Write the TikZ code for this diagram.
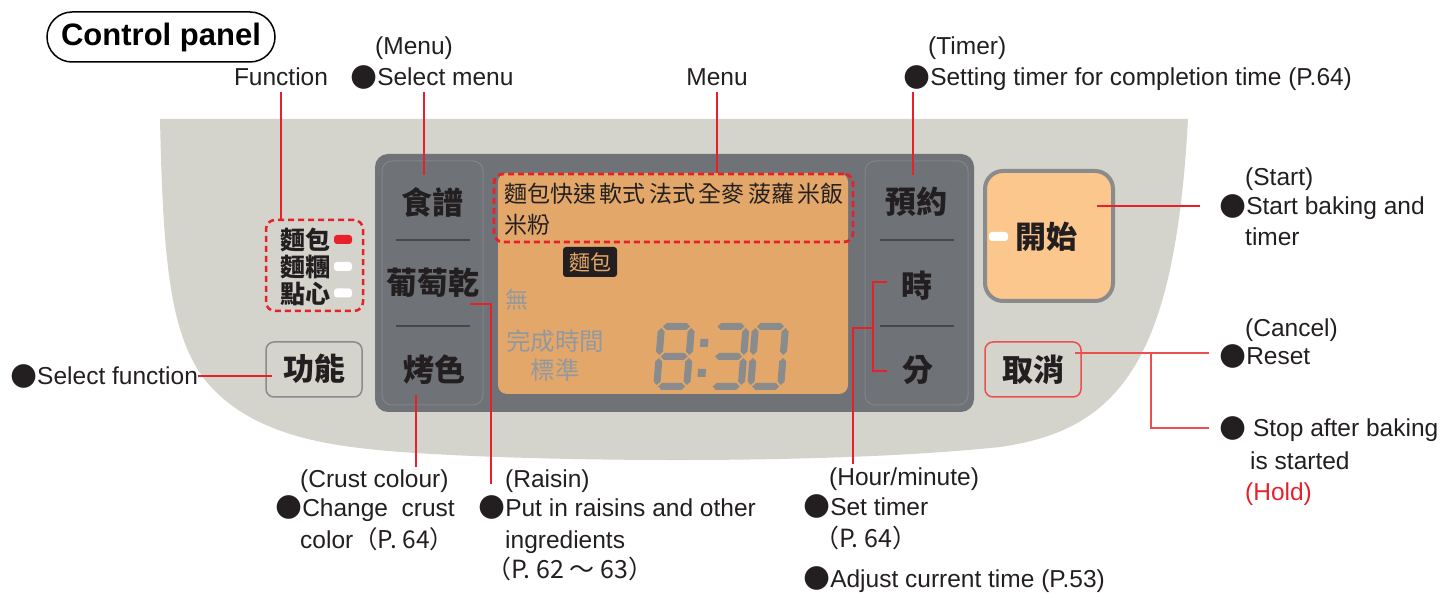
\documentclass[tikz,border=0pt]{standalone}
\usepackage{fontspec}
\setmainfont{Liberation Sans}
\newfontfamily\cjk{Noto Sans CJK TC}
\newfontfamily\sym{DejaVu Sans}
\newcommand\myfs[1]{\fontsize{#1}{#1}\selectfont}
\newcommand\bul{{\sym\fontsize{31}{31}\selectfont\raisebox{0.5pt}{●}}}
\definecolor{basec}{HTML}{D4D3CC}
\definecolor{panelc}{HTML}{6F7276}
\definecolor{panelline}{HTML}{818488}
\definecolor{sepc}{HTML}{45474A}
\definecolor{lcdc}{HTML}{E3A869}
\definecolor{dimc}{HTML}{9398A0}
\definecolor{segc}{HTML}{8A8B8D}
\definecolor{startc}{HTML}{FCC78D}
\definecolor{btnb}{HTML}{8A8B8C}
\definecolor{cred}{HTML}{E8202A}
\definecolor{credl}{HTML}{EC4F4F}
\definecolor{txt}{HTML}{231F20}
\newcommand\hsg[3]{\fill[segc] (#1+1.5,#3) -- (#1+5,#3-3.5) -- (#2-5,#3-3.5) -- (#2-1.5,#3) -- (#2-5,#3+3.5) -- (#1+5,#3+3.5) -- cycle;}
\newcommand\vsg[3]{\fill[segc] (#1,#2+1.5) -- (#1+3.5,#2+5) -- (#1+3.5,#3-5) -- (#1,#3-1.5) -- (#1-3.5,#3-5) -- (#1-3.5,#2+5) -- cycle;}
\begin{document}
\begin{tikzpicture}[x=1pt,y=-1pt,
  lbl/.style={anchor=base west, inner sep=0, font=\myfs{24.5}, text=txt},
  redline/.style={draw=cred, line width=1.5pt},
  redlinel/.style={draw=credl, line width=1.5pt},
  cjkt/.style={inner sep=0, text=txt, font=\cjk\myfs{31}},
  btnt/.style={inner sep=0, text=txt, font=\cjk\bfseries\myfs{31}},
  lcdt/.style={inner sep=0, text=dimc, font=\cjk\myfs{24.5}},
  sepline/.style={draw=sepc, line width=1.5pt},
  column/.style={draw=panelline, line width=1pt, rounded corners=10pt, minimum width=101pt, minimum height=244pt, inner sep=0},
  reddash/.style={draw=cred, line width=2.8pt, dash pattern=on 6pt off 4pt, rounded corners=9pt, inner sep=0},
  led/.style={inner sep=0, minimum width=18pt, minimum height=9pt, rounded corners=3pt}
]
\useasboundingbox (0,0) rectangle (1446,593);
% base
\fill[basec] (160,119) -- (1188,119) .. controls (1175,360) and (1120,430) .. (1000,447)
  .. controls (800,468) and (450,460) .. (360,448)
  .. controls (290,440) and (235,420) .. (202,376)
  .. controls (170,330) and (163,260) .. (160,119) -- cycle;
% title
\node[draw=black, line width=1.5pt, rounded corners=25pt, minimum width=228pt, minimum height=50pt, inner sep=0, font=\bfseries\myfs{31}] (title) at (161,37) {Control panel};
% panel
\node[fill=panelc, rounded corners=13pt, minimum width=599pt, minimum height=258pt, inner sep=0] (panel) at (674.5,283) {};
\node[column] (lcol) at (432.5,283) {};
\node[column, minimum width=103pt] (rcol) at (916.5,283) {};
\draw[sepline] (396,240) -- (470,240);
\draw[sepline] (396,326) -- (470,326);
\draw[sepline] (880,240) -- (954,240);
\draw[sepline] (880,326) -- (954,326);
\node[btnt] (shiyu) at (432,202) {食譜};
\node[btnt] (putao) at (433,283) {葡萄乾};
\node[btnt] (kaose) at (434,370) {烤色};
\node[btnt] (yuyue) at (916,202) {預約};
\node[btnt] (shi) at (917,286) {時};
\node[btnt] (fen) at (918,370) {分};
% LCD
\node[fill=lcdc, rounded corners=9pt, minimum width=350pt, minimum height=221pt, inner sep=0] (lcd) at (673,283.5) {};
\node[reddash, minimum width=359pt, minimum height=68pt] (menubox) at (673.5,208) {};
\node[cjkt, font=\cjk\myfs{23}, anchor=west] (menu1) at (504,193.5) {麵包快速\hspace{3.5pt}軟式\hspace{3.5pt}法式\hspace{3.5pt}全麥\hspace{3.5pt}菠蘿\hspace{3.5pt}米飯};
\node[cjkt, font=\cjk\myfs{23}, anchor=west] (menu2) at (504,225) {米粉};
\node[fill=txt, rounded corners=3pt, minimum width=54pt, minimum height=30pt, inner sep=0, text=lcdc, font=\cjk\myfs{21}] (mianbao) at (590,262) {麵包};
\node[lcdt, font=\cjk\myfs{23}] (wu) at (516.5,299.5) {無};
\node[lcdt] (wancheng) at (555,341.5) {完成時間};
\node[lcdt] (biaozhun) at (555,370.5) {標準};
% seven segment 8:30
\begin{scope}[shift={(661.5,326.5)}, xslant=0.08]
\hsg{0}{30}{0}\vsg{30}{0}{30}\vsg{30}{30}{60}\hsg{0}{30}{60}\vsg{0}{30}{60}\vsg{0}{0}{30}\hsg{0}{30}{30}
\fill[segc] (40,12.5) rectangle (48,20.5);
\fill[segc] (40,42.5) rectangle (48,50.5);
\end{scope}
\begin{scope}[shift={(716,326.5)}, xslant=0.08]
\hsg{0}{30}{0}\vsg{30}{0}{30}\vsg{30}{30}{60}\hsg{0}{30}{60}\hsg{0}{30}{30}
\end{scope}
\begin{scope}[shift={(755.5,326.5)}, xslant=0.08]
\hsg{0}{30}{0}\vsg{30}{0}{30}\vsg{30}{30}{60}\hsg{0}{30}{60}\vsg{0}{30}{60}\vsg{0}{0}{30}
\end{scope}
% function indicator
\node[reddash, line width=2.5pt, minimum width=97pt, minimum height=91pt] (funcbox) at (314.5,265.5) {};
\node[btnt, font=\cjk\bfseries\myfs{25}] (f1) at (305,240) {麵包};
\node[btnt, font=\cjk\bfseries\myfs{25}] (f2) at (305,267.5) {麵糰};
\node[btnt, font=\cjk\bfseries\myfs{25}] (f3) at (305,294) {點心};
\node[led, fill=cred] (led1) at (343,239.5) {};
\node[led, fill=white] (led2) at (343,266.5) {};
\node[led, fill=white] (led3) at (343,293) {};
% buttons
\node[draw=btnb, line width=1.5pt, fill=basec, rounded corners=8pt, minimum width=96pt, minimum height=55pt, inner sep=0] (fnbtn) at (314,369.5) {};
\node[btnt] (gongneng) at (314,369) {功能};
\node[draw=btnb, line width=4pt, fill=startc, rounded corners=18pt, minimum width=128pt, minimum height=130pt, inner sep=0] (startbtn) at (1049,236) {};
\node[led, fill=white, minimum width=19pt] (led4) at (998.5,236.5) {};
\node[btnt] (kaishi) at (1046,237) {開始};
\node[draw=credl, line width=1.5pt, fill=basec, rounded corners=8pt, minimum width=96pt, minimum height=55pt, inner sep=0] (cancelbtn) at (1033,369.5) {};
\node[btnt] (quxiao) at (1033,370) {取消};
% labels top
\node[lbl] (lMenuT) at (375,55) {(Menu)};
\node[lbl] (lSelMenu) at (350,86) {\bul Select menu};
\node[lbl, anchor=base] (lFunc) at (281,86) {Function};
\node[lbl, anchor=base] (lMenu) at (717,86) {Menu};
\node[lbl] (lTimerT) at (928,55) {(Timer)};
\node[lbl] (lTimer) at (903,86) {\bul Setting timer for completion time (P.64)};
% labels right
\node[lbl] (lStartT) at (1245,186) {(Start)};
\node[lbl] (lStart) at (1219,215) {\bul Start baking and};
\node[lbl] (lStart2) at (1245,246) {timer};
\node[lbl] (lCancelT) at (1245,337) {(Cancel)};
\node[lbl] (lReset) at (1219,365) {\bul Reset};
\node[lbl] (lStop) at (1219,437) {\bul\ Stop after baking};
\node[lbl] (lStop2) at (1250,469) {is started};
\node[lbl, text=cred] (lHold) at (1245,500) {(Hold)};
% label left
\node[lbl] (lSelFn) at (10,385) {\bul Select function};
% labels bottom
\node[lbl] (lCrustT) at (300,487) {(Crust colour)};
\node[lbl] (lCrust) at (275,516) {\bul Change\ \ crust};
\node[lbl] (lCrust2) at (300,548) {color{\cjk （P. 64）}};
\node[lbl] (lRaisinT) at (505,487) {(Raisin)};
\node[lbl] (lRaisin) at (478,516) {\bul Put in raisins and other};
\node[lbl] (lRaisin2) at (505,548) {ingredients};
\node[lbl, font=\cjk\myfs{25}] (lRaisin3) at (486,578) {（P. 62 〜 63）};
\node[lbl] (lHourT) at (829,485) {(Hour/minute)};
\node[lbl] (lHour) at (803,515) {\bul Set timer};
\node[lbl, font=\cjk\myfs{25}] (lHour2) at (814,547) {（P. 64）};
\node[lbl] (lAdjust) at (803,587) {\bul Adjust current time (P.53)};
% connectors
\draw[redline] (281,92) -- (funcbox.north -| 281,0);
\draw[redline] (424,92) -- (424,175);
\draw[redline] (717,92) -- (menubox.north -| 717,0);
\draw[redline] (913,92) -- (913,175);
\draw[redline] (1097,206) -- (1200,206);
\draw[redlinel] (1075,353) -- (1209,353);
\draw[redlinel] (1151,353) |- (1209,428);
\draw[redline] (198,376) -- (272,376);
\draw[redline] (416,395) -- (416,467);
\draw[redline] (470,304) -| (491,484);
\draw[redline] (887,282) -| (873,371) -- (887,371);
\draw[redline] (873,328) -| (853,464);
\end{tikzpicture}
\end{document}
